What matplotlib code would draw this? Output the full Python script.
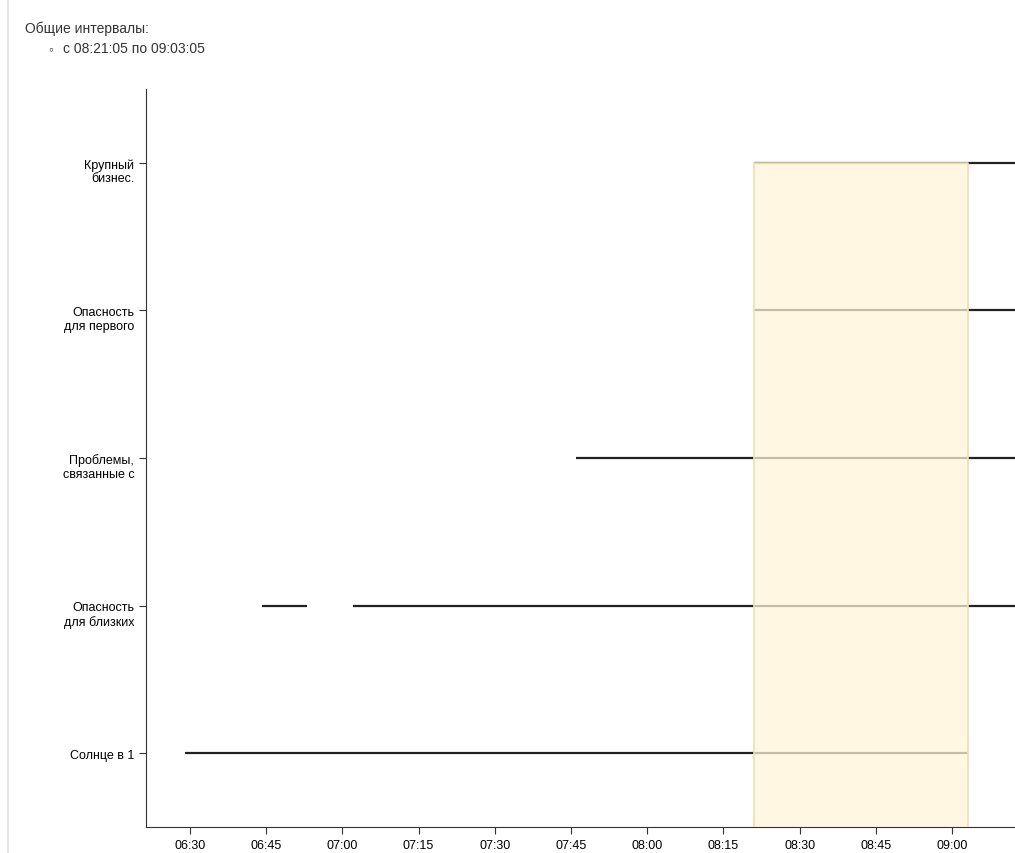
import matplotlib.pyplot as plt
import matplotlib.transforms as mtransforms
from matplotlib.lines import Line2D


def hm(s):
    p = [int(v) for v in s.split(":")]
    return p[0] * 60 + p[1] + (p[2] / 60 if len(p) > 2 else 0)


categories = ["Солнце в 1", "Опасность\nдля близких", "Проблемы,\nсвязанные с",
              "Опасность\nдля первого", "Крупный\nбизнес."]
# (row index, start, end)
segments = [
    (0, "06:29", "09:03:05"),
    (1, "06:44:10", "06:53:05"),
    (1, "07:02:05", "09:20"),
    (2, "07:46", "09:20"),
    (3, "08:21:05", "09:20"),
    (4, "08:21:05", "09:20"),
]
common_start, common_end = "08:21:05", "09:03:05"
tick_labels = ["06:30", "06:45", "07:00", "07:15", "07:30", "07:45",
               "08:00", "08:15", "08:30", "08:45", "09:00"]

plt.rcParams["font.family"] = ["Liberation Sans", "DejaVu Sans"]
fig = plt.figure(figsize=(10.15, 8.54), dpi=100)
fig.add_artist(Line2D([8 / 1015, 8 / 1015], [0, 1], color="#e4e4e4", lw=1.5))
fig.text(25 / 1015, 1 - 29 / 854, "Общие интервалы:", fontsize=10, va="center", color="#333")
fig.text(48 / 1015, 1 - 49 / 854, "◦", fontsize=10, va="center", color="#333")
fig.text(63 / 1015, 1 - 49 / 854, f"с {common_start} по {common_end}", fontsize=10,
         va="center", color="#333")

ax = fig.add_axes([146 / 1015, 1 - 828 / 854, 1 - 146 / 1015, (828 - 90) / 854])
for row, s, e in segments:
    ax.plot([hm(s), hm(e)], [row, row], color="#222", lw=1.6, solid_capstyle="butt", zorder=1)
ax.fill_between([hm(common_start), hm(common_end)], -0.5, len(categories) - 1,
                color=(1.0, 0.96, 0.85), alpha=0.74, zorder=2, lw=0)
ax.plot([hm(common_start), hm(common_start), hm(common_end), hm(common_end)],
        [-0.5, len(categories) - 1, len(categories) - 1, -0.5],
        color="#efdfb0", lw=1.2, zorder=3)

ax.set_xlim(hm("06:21:20"), hm("09:12:24"))
ax.set_ylim(-0.5, len(categories) - 0.5)
ax.set_xticks([hm(t) for t in tick_labels])
ax.set_xticklabels(tick_labels)
ax.set_yticks(range(len(categories)))
ax.set_yticklabels(categories, ha="right", multialignment="right")
ax.tick_params(labelsize=9, length=5, color="#333")
shift = mtransforms.ScaledTranslation(0, -6 / 100, fig.dpi_scale_trans)
for lab in ax.get_yticklabels():
    if "\n" in lab.get_text():
        lab.set_transform(lab.get_transform() + shift)
for sp in ("top", "right"):
    ax.spines[sp].set_visible(False)
for sp in ("left", "bottom"):
    ax.spines[sp].set_color("#333")

fig.savefig("out.png", dpi=100)
